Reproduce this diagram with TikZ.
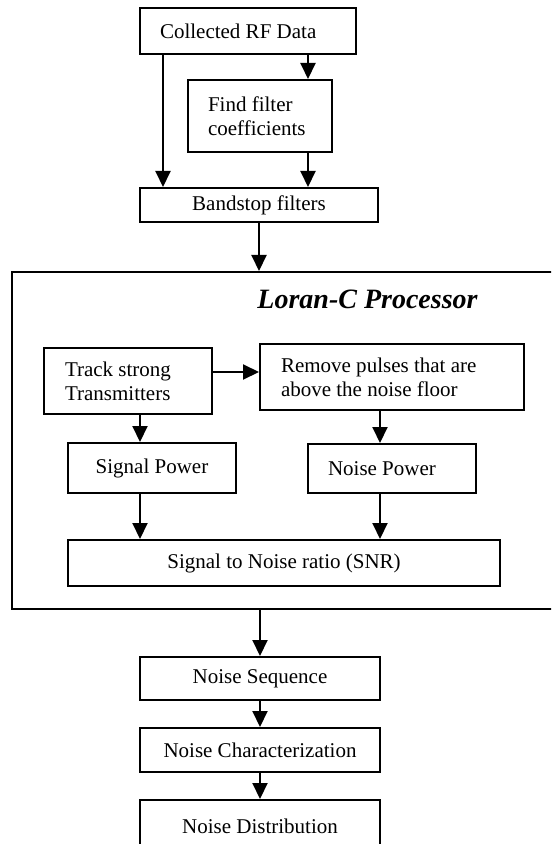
\documentclass[tikz,border=0pt]{standalone}
\usepackage{fontspec}
\setmainfont{Liberation Serif}
\usetikzlibrary{arrows.meta}

\begin{document}
\begin{tikzpicture}[
    x=0.5pt, y=-0.5pt,
    font=\fontsize{10.5}{12}\selectfont,
    >={Triangle[width=7.5pt, length=8pt]},
    % Node styles
    blk/.style={
        rectangle, draw=black, line width=1pt,
        inner sep=0pt, align=center
    },
    lblk/.style={
        blk, align=flush left, inner xsep=10pt
    },
    procframe/.style={
        rectangle, draw=black, line width=1pt,
        inner sep=0pt
    },
    titlelbl/.style={font=\fontsize{14}{17}\selectfont\bfseries\itshape, anchor=base},
    flow/.style={->, line width=1pt},
]

\useasboundingbox (0,0) rectangle (551,844);
\clip (0,0) rectangle (551,844);

%% ---- helper columns / rows for the arrows ----
\coordinate (colA) at (163,0);
\coordinate (colB) at (308,0);
\coordinate (colS) at (140,0);
\coordinate (colN) at (380,0);
\coordinate (rowT) at (0,372);

%% ---- TOP: data + filters ----
\node[lblk, text width=88pt, minimum height=23pt] (rfdata) at (248,31)  {Collected RF Data};
\node[lblk, text width=52pt, minimum height=36pt] (coef)   at (260,116) {Find filter\\coefficients};
\node[blk, minimum width=119pt, minimum height=17pt] (bandstop) at (259,205) {Bandstop filters};

%% ---- MIDDLE: Loran-C processor ----
\node[procframe, minimum width=274pt, minimum height=168.5pt] (proc) at (286,440.5) {};
\node[titlelbl] (proctitle) at (367.5,308) {Loran-C Processor};

\node[lblk, inner xsep=10.5pt, text width=63pt, minimum height=33pt]  (track)  at (128,381) {Track strong\\Transmitters};
\node[lblk, inner xsep=10.5pt, text width=111pt, minimum height=33pt] (remove) at (392,377) {Remove pulses that are\\above the noise floor};

\node[blk, minimum width=84pt, minimum height=25pt]    (sigpow) at (152,468)   {Signal Power};
\node[lblk, text width=64pt, minimum height=24.5pt]     (noipow) at (392,468.5) {Noise Power};

\node[blk, minimum width=216pt, minimum height=23pt] (snr) at (284,563) {Signal to Noise ratio (SNR)};

%% ---- BOTTOM: noise chain ----
\node[blk, minimum width=120pt, minimum height=21.5pt] (noiseseq)  at (260,678.5) {Noise Sequence};
\node[blk, minimum width=120pt, minimum height=22pt]   (noisechar) at (260,750)   {Noise Characterization};
\node[blk, minimum width=120pt, minimum height=26pt]   (noisedist) at (260,826)   {Noise Distribution};

%% ---- ARROWS ----
% data -> bandstop, data -> coefficients -> bandstop
\draw[flow] (rfdata.south -| colA) -- (bandstop.north -| colA);
\draw[flow] (rfdata.south -| colB) -- (coef.north -| colB);
\draw[flow] (coef.south -| colB) -- (bandstop.north -| colB);

% bandstop -> processor
\draw[flow] (bandstop.south) -- (bandstop.south |- proc.north);

% inside the processor
\draw[flow] (track.east |- rowT) -- (remove.west |- rowT);
\draw[flow] (track.south -| colS) -- (sigpow.north -| colS);
\draw[flow] (remove.south -| colN) -- (noipow.north -| colN);
\draw[flow] (sigpow.south -| colS) -- (snr.north -| colS);
\draw[flow] (noipow.south -| colN) -- (snr.north -| colN);

% processor -> noise chain
\draw[flow] (proc.south -| noiseseq.north) -- (noiseseq.north);
\draw[flow] (noiseseq) -- (noisechar);
\draw[flow] (noisechar) -- (noisedist);

\end{tikzpicture}
\end{document}
